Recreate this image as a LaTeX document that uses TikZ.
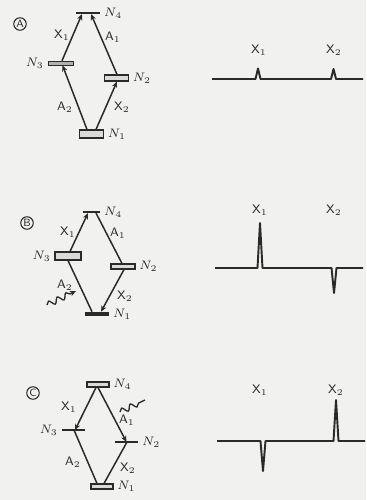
\documentclass[tikz,border=0pt]{standalone}
\usepackage{amsmath}
\usepackage{xcolor}
\usetikzlibrary{arrows.meta,positioning,calc,decorations.pathmorphing}
\definecolor{printink}{HTML}{2A2A2A}
\definecolor{paper}{HTML}{F1F1EF}
\definecolor{boxfill}{HTML}{DADAD8}

\begin{document}
\begin{tikzpicture}[
  x=0.02cm,
  y=-0.02cm,
  every node/.style={font=\fontsize{6.6}{7.5}\selectfont, printink, inner sep=1pt},
  lvlbox/.style={draw=printink, fill=boxfill, line width=0.6pt, inner sep=0pt,
                 minimum width=0.48cm, minimum height=0.12cm},
  lvlbar/.style={fill=printink, inner sep=0pt, minimum width=0.46cm, minimum height=1.6pt},
  lvlthin/.style={fill=printink, inner sep=0pt, minimum width=0.48cm, minimum height=0.8pt},
  lvlgrey/.style={draw=printink, fill=gray!60, line width=0.4pt, inner sep=0pt,
                  minimum width=0.5cm, minimum height=2.2pt},
  trans/.style={printink, line width=0.85pt},
  transarr/.style={trans, -{Stealth[length=3.5pt, width=3pt]}},
  wave/.style={printink, line width=0.75pt, decorate,
               decoration={snake, amplitude=1.6pt, segment length=5.5pt, post length=2pt}},
  tag/.style={draw=printink, circle, line width=0.6pt, inner sep=0pt, minimum size=0.25cm,
              font=\fontsize{6}{7}\selectfont\sffamily},
  spec/.style={printink, line width=1.1pt, line join=round}
]
  \useasboundingbox (0,0) rectangle (366,500);
  \fill[paper] (0,0) rectangle (366,500);

  % ---- A: thermal populations ----
  \node[tag] (taga) at (20,24) {A};
  \node[lvlthin] (n4a) at (88,13) {};
  \node[lvlgrey] (n3a) at (60.5,63) {};
  \node[lvlbox] (n2a) at (116.5,78) {};
  \node[lvlbox, minimum height=0.16cm] (n1a) at (91.5,134) {};
  \node[right=1pt of n4a] (ln4a) {$N_4$};
  \node[left=1pt of n3a] (ln3a) {$N_3$};
  \node[right=1pt of n2a] (ln2a) {$N_2$};
  \node[right=1pt of n1a] (ln1a) {$N_1$};

  \draw[transarr] ($(n1a.north)+(-4.5,0)$) -- ($(n3a.south)+(2,0)$);
  \draw[transarr] ($(n1a.north)+(4.5,0)$) -- ($(n2a.south)+(0.5,0)$);
  \draw[transarr] ($(n3a.north)+(1.5,0)$) -- ($(n4a.south)+(-6,0)$);
  \draw[transarr] ($(n2a.north)+(0.5,0)$) -- ($(n4a.south)+(3,0)$);
  \node (tx1a) at (62,35) {$\mathsf{X}_1$};
  \node (ta1a) at (113,37) {$\mathsf{A}_1$};
  \node (ta2a) at (65,107) {$\mathsf{A}_2$};
  \node (tx2a) at (122,107) {$\mathsf{X}_2$};

  \draw[spec] (212,79) -- (255.5,79) -- (258,68.5) -- (260.5,79) -- (331,79)
    -- (333.5,69) -- (336,79) -- (363,79);
  \node (sx1a) at (259,50) {$\mathsf{X}_1$};
  \node (sx2a) at (334,50) {$\mathsf{X}_2$};

  % ---- B: A_2 irradiated ----
  \node[tag] (tagb) at (27,223) {B};
  \node[lvlthin, minimum width=0.34cm] (n4b) at (91.5,212) {};
  \node[lvlbox, minimum width=0.52cm, minimum height=0.16cm] (n3b) at (68,256) {};
  \node[lvlbox, minimum height=0.1cm] (n2b) at (123,266.5) {};
  \node[lvlbar, minimum width=0.48cm, minimum height=2.2pt] (n1b) at (97,314) {};
  \node[right=1pt of n4b] (ln4b) {$N_4$};
  \node[left=1pt of n3b] (ln3b) {$N_3$};
  \node[right=1pt of n2b] (ln2b) {$N_2$};
  \node[right=1pt of n1b] (ln1b) {$N_1$};

  \draw[trans] ($(n1b.north)+(-5,0)$) -- (n3b.south);
  \draw[transarr] ($(n2b.south)+(1,0)$) -- ($(n1b.north)+(4,0)$);
  \draw[transarr] ($(n3b.north)+(2,0)$) -- ($(n4b.south)+(-3.5,0)$);
  \draw[trans] ($(n2b.north)+(-1,0)$) -- ($(n4b.south)+(4.5,0)$);
  \node (tx1b) at (68,232) {$\mathsf{X}_1$};
  \node (ta1b) at (118,233) {$\mathsf{A}_1$};
  \node (ta2b) at (65,285) {$\mathsf{A}_2$};
  \node (tx2b) at (125,296) {$\mathsf{X}_2$};
  \coordinate (wb0) at (47,305);
  \coordinate (wb1) at (76,291);
  \draw[wave, -{Stealth[length=3.5pt, width=3pt]}] (wb0) -- (wb1);

  \draw[spec] (215,268) -- (257.5,268) -- (260,223) -- (262.5,268) -- (331.5,268)
    -- (334,293) -- (336.5,268) -- (363,268);
  \node (sx1b) at (260,210) {$\mathsf{X}_1$};
  \node (sx2b) at (334,210) {$\mathsf{X}_2$};

  % ---- C: A_1 irradiated ----
  \node[tag] (tagc) at (33,393) {C};
  \node[lvlbox, minimum width=0.44cm, minimum height=0.1cm] (n4c) at (98,384.5) {};
  \node[lvlbar] (n3c) at (73.5,430) {};
  \node[lvlbar] (n2c) at (126.5,442) {};
  \node[lvlbox, minimum width=0.44cm, minimum height=0.1cm] (n1c) at (102,486.5) {};
  \node[right=1pt of n4c] (ln4c) {$N_4$};
  \node[left=1pt of n3c] (ln3c) {$N_3$};
  \node[right=1pt of n2c] (ln2c) {$N_2$};
  \node[right=1pt of n1c] (ln1c) {$N_1$};

  \draw[transarr] ($(n4c.south)+(-2,0)$) -- ($(n3c.center)+(1.5,0)$);
  \draw[transarr] (n4c.south) -- (n2c.center);
  \draw[trans] ($(n1c.north)+(-5,0)$) -- ($(n3c.center)+(0.5,0)$);
  \draw[trans] ($(n1c.north)+(2,0)$) -- ($(n2c.center)+(0.5,0)$);
  \node (tx1c) at (69,407) {$\mathsf{X}_1$};
  \node (ta1c) at (127,420) {$\mathsf{A}_1$};
  \node (ta2c) at (73,462) {$\mathsf{A}_2$};
  \node (tx2c) at (128,468) {$\mathsf{X}_2$};
  \coordinate (wc0) at (120,412);
  \coordinate (wc1) at (145,400);
  \draw[wave] (wc0) -- (wc1);

  \draw[spec] (217,441) -- (260.5,441) -- (263,471) -- (265.5,441) -- (333.5,441)
    -- (336,400) -- (338.5,441) -- (365,441);
  \node (sx1c) at (260,390) {$\mathsf{X}_1$};
  \node (sx2c) at (336,390) {$\mathsf{X}_2$};
\end{tikzpicture}
\end{document}
